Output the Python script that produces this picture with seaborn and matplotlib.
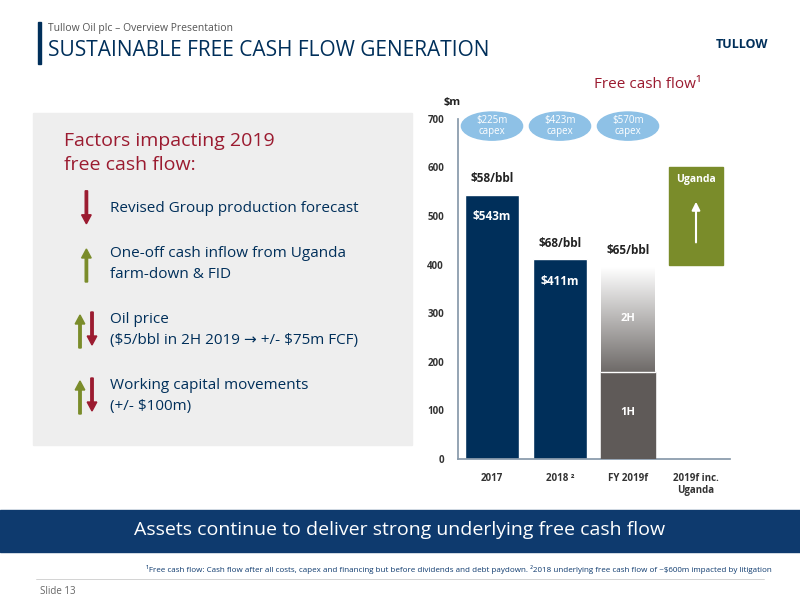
import matplotlib
matplotlib.use("Agg")
import matplotlib.pyplot as plt
import seaborn as sns
import numpy as np
import pandas as pd
from matplotlib.patches import Rectangle, Ellipse, FancyArrow

sns.set_theme(style="white")
plt.rcParams['font.family'] = ['Open Sans', 'DejaVu Sans']
plt.rcParams['text.parse_math'] = False

categories = ["2017", "2018 ²", "FY 2019f", "2019f inc.\nUganda"]
fcf_values = [543, 411, 0, 0]
bar_labels = ["$543m", "$411m"]
price_labels = ["$58/bbl", "$68/bbl", "$65/bbl"]
capex_labels = ["$225m\ncapex", "$423m\ncapex", "$570m\ncapex"]
h1_value = 180
fy2019_top = 395
uganda_low, uganda_high = 400, 600
yticks = [0, 100, 200, 300, 400, 500, 600, 700]

navy = "#002f5a"
red = "#9b1b30"
green = "#7a8c2a"

fig = plt.figure(figsize=(8, 6), dpi=100)
fig.patch.set_facecolor("white")

# header
fig.add_artist(Rectangle((0.047, 0.893), 0.004, 0.07, transform=fig.transFigure, color=navy))
fig.text(0.06, 0.952, "Tullow Oil plc – Overview Presentation", fontsize=7.5, color="#555555", va="center")
fig.text(0.06, 0.915, "SUSTAINABLE FREE CASH FLOW GENERATION", fontsize=15, color=navy, va="center")
fig.text(0.96, 0.925, "TULLOW", fontsize=9, color=navy, ha="right", va="center", fontweight="bold")

# left box
fig.add_artist(Rectangle((0.041, 0.258), 0.474, 0.554, transform=fig.transFigure, color="#eeeeee", zorder=0))
fig.text(0.08, 0.745, "Factors impacting 2019\nfree cash flow:", fontsize=14, color=red, va="center", linespacing=1.5)
items = [(0.652, "Revised Group production forecast", ["d"]),
         (0.56, "One-off cash inflow from Uganda\nfarm-down & FID", ["u"]),
         (0.45, "Oil price\n($5/bbl in 2H 2019 → +/- $75m FCF)", ["u", "d"]),
         (0.34, "Working capital movements\n(+/- $100m)", ["u", "d"])]
for y, txt, arrows in items:
    fig.text(0.137, y, txt, fontsize=11, color=navy, va="center", linespacing=1.5)
    for k, a in enumerate(arrows):
        x = 0.108 if len(arrows) == 1 else 0.1 + k * 0.015
        if a == "u":
            fig.add_artist(FancyArrow(x, y - 0.03, 0, 0.055, width=0.003, head_width=0.012, head_length=0.015,
                                      transform=fig.transFigure, color=green, length_includes_head=True))
        else:
            fig.add_artist(FancyArrow(x, y + 0.03, 0, -0.055, width=0.003, head_width=0.012, head_length=0.015,
                                      transform=fig.transFigure, color=red, length_includes_head=True))

# chart
ax = fig.add_axes([0.5725, 0.235, 0.34, 0.567])
df = pd.DataFrame({"cat": categories, "v": fcf_values})
sns.barplot(data=df, x="cat", y="v", color=navy, saturation=1, width=0.78, ax=ax)
ax.set_ylim(0, 700)
ax.set_xlim(-0.5, 3.5)
ax.set_yticks(yticks)
ax.tick_params(labelsize=7, colors="#333333", length=0, pad=10)
for l in ax.get_xticklabels():
    l.set_fontweight("bold")
for l in ax.get_yticklabels():
    l.set_fontweight("bold")
ax.set_xlabel("")
ax.set_ylabel("")
for s in ["top", "right"]:
    ax.spines[s].set_visible(False)
for s in ["left", "bottom"]:
    ax.spines[s].set_color("#8899aa")
ax.set_facecolor("white")

w = 0.78
ax.add_patch(Rectangle((2 - w / 2, 0), w, h1_value, color="#5f5a58", zorder=3))
grad = np.linspace(0, 1, 256).reshape(-1, 1)
ax.imshow(grad, extent=(2 - w / 2, 2 + w / 2, h1_value, fy2019_top),
          cmap=matplotlib.colors.LinearSegmentedColormap.from_list("g", ["#6e6a68", "#ffffff"]),
          origin="lower", aspect="auto", zorder=3)
ax.set_xlim(-0.5, 3.5); ax.set_ylim(0, 700)
ax.plot([2 - w / 2, 2 + w / 2], [h1_value, h1_value], color="white", lw=1, zorder=4)
ax.add_patch(Rectangle((3 - w / 2, uganda_low), w, uganda_high - uganda_low, color=green, zorder=3))
ax.annotate("", xy=(3, 535), xytext=(3, 440), arrowprops=dict(arrowstyle="-|>", color="white", lw=1.5), zorder=5)
ax.text(3, 575, "Uganda", color="white", ha="center", va="center", fontsize=7.5, fontweight="bold", zorder=5)

for i, t in enumerate(bar_labels):
    ax.text(i, fcf_values[i] - 45, t, color="white", ha="center", va="center", fontsize=8.5, fontweight="bold", zorder=5)
tops = [fcf_values[0], fcf_values[1], fy2019_top]
for i, t in enumerate(price_labels):
    ax.text(i, tops[i] + 20, t, color="#222222", ha="center", va="bottom", fontsize=8.5, fontweight="bold", zorder=5)
ax.text(2, 290, "2H", color="white", ha="center", va="center", fontsize=8, fontweight="bold", zorder=5)
ax.text(2, 95, "1H", color="white", ha="center", va="center", fontsize=8, fontweight="bold", zorder=5)
for i, t in enumerate(capex_labels):
    ax.add_patch(Ellipse((i, 685), 0.9, 58, color="#8ec1e6", zorder=5, clip_on=False))
    ax.text(i, 685, t, color="white", ha="center", va="center", fontsize=7, zorder=6, linespacing=1.1)
ax.text(-0.02, 1.04, "$m", transform=ax.transAxes, fontsize=8, fontweight="bold", color="#222222", ha="center")
fig.text(0.81, 0.86, "Free cash flow¹", fontsize=11, color=red, ha="center", va="center")

# banner
fig.add_artist(Rectangle((0, 0.08), 1, 0.07, transform=fig.transFigure, color="#0e3a6e"))
fig.text(0.5, 0.117, "Assets continue to deliver strong underlying free cash flow", fontsize=14, color="white", ha="center", va="center")
fig.text(0.965, 0.05, "¹Free cash flow: Cash flow after all costs, capex and financing but before dividends and debt paydown. ²2018 underlying free cash flow of ~$600m impacted by litigation",
         fontsize=5.8, color="#0e3a6e", ha="right", va="center")
fig.add_artist(plt.Line2D([0.045, 0.955], [0.035, 0.035], transform=fig.transFigure, color="#cccccc", lw=0.6))
fig.text(0.05, 0.015, "Slide 13", fontsize=7, color="#666666", va="center")

fig.savefig("out.png", dpi=100)
